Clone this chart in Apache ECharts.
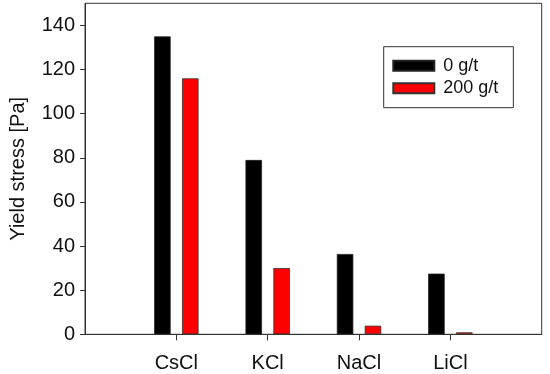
<!DOCTYPE html>
<html><head><meta charset="utf-8">
<script src="https://cdn.jsdelivr.net/npm/echarts@6/dist/echarts.min.js"></script>
<style>html,body{margin:0;padding:0;background:#fff}#c{width:550px;height:374px}</style>
</head><body><div id="c"></div>
<script>
var categories = ['CsCl', 'KCl', 'NaCl', 'LiCl'];
var series0 = [135, 79, 36.4, 27.5];     // 0 g/t
var series200 = [116, 30, 3.9, 0.9];     // 200 g/t
var seriesNames = ['0 g/t', '200 g/t'];
var yTicks = [0, 20, 40, 60, 80, 100, 120, 140];

var axisCats = [''].concat(categories, ['']);
function pad(a) { return [null].concat(a, [null]); }
var font = 'Liberation Sans, Arial, sans-serif';
var chart = echarts.init(document.getElementById('c'), null, {renderer: 'canvas'});
chart.setOption({
  animation: false,
  backgroundColor: '#fff',
  grid: {left: 84.7, right: 8.3, top: 3.3, bottom: 39.7, show: true, borderColor: '#333', borderWidth: 1, backgroundColor: 'transparent'},
  legend: {
    orient: 'vertical', left: 383.7, top: 46.7,
    padding: [10, 15, 10.4, 8.6], itemGap: 4.6,
    itemWidth: 41, itemHeight: 10, icon: 'rect',
    borderColor: '#333', borderWidth: 1,
    textStyle: {fontFamily: font, fontSize: 18, color: '#111', lineHeight: 18, padding: [0, 0, 0, 4]},
    data: seriesNames
  },
  xAxis: {
    type: 'category', data: axisCats, boundaryGap: false,
    axisLine: {lineStyle: {color: '#333', width: 1}},
    axisTick: {show: true, length: 6, inside: false, lineStyle: {color: '#333'},
      interval: function (i, v) { return v !== ''; }},
    axisLabel: {fontFamily: font, fontSize: 20, color: '#111', margin: 19,
      interval: function (i, v) { return v !== ''; }},
    splitLine: {show: false}
  },
  yAxis: {
    type: 'value', min: 0, max: 150, interval: 20,
    name: 'Yield stress [Pa]', nameLocation: 'middle', nameGap: 57,
    nameTextStyle: {fontFamily: font, fontSize: 20, color: '#111'},
    axisLine: {show: true, lineStyle: {color: '#333', width: 1}},
    axisTick: {show: true, length: 5, inside: false, lineStyle: {color: '#333'}},
    axisLabel: {fontFamily: font, fontSize: 20, color: '#111', margin: 10, showMaxLabel: false,
      formatter: function (v) { return yTicks.indexOf(v) >= 0 ? String(v) : ''; }},
    splitLine: {show: false}
  },
  series: [
    {name: seriesNames[0], type: 'bar', data: pad(series0), barWidth: 16.5, barGap: '69%',
     itemStyle: {color: '#000000', borderColor: '#222', borderWidth: 0.8}},
    {name: seriesNames[1], type: 'bar', data: pad(series200), barWidth: 16.5, barGap: '69%',
     itemStyle: {color: '#ff0000', borderColor: '#333', borderWidth: 0.8}}
  ]
});
</script></body></html>
